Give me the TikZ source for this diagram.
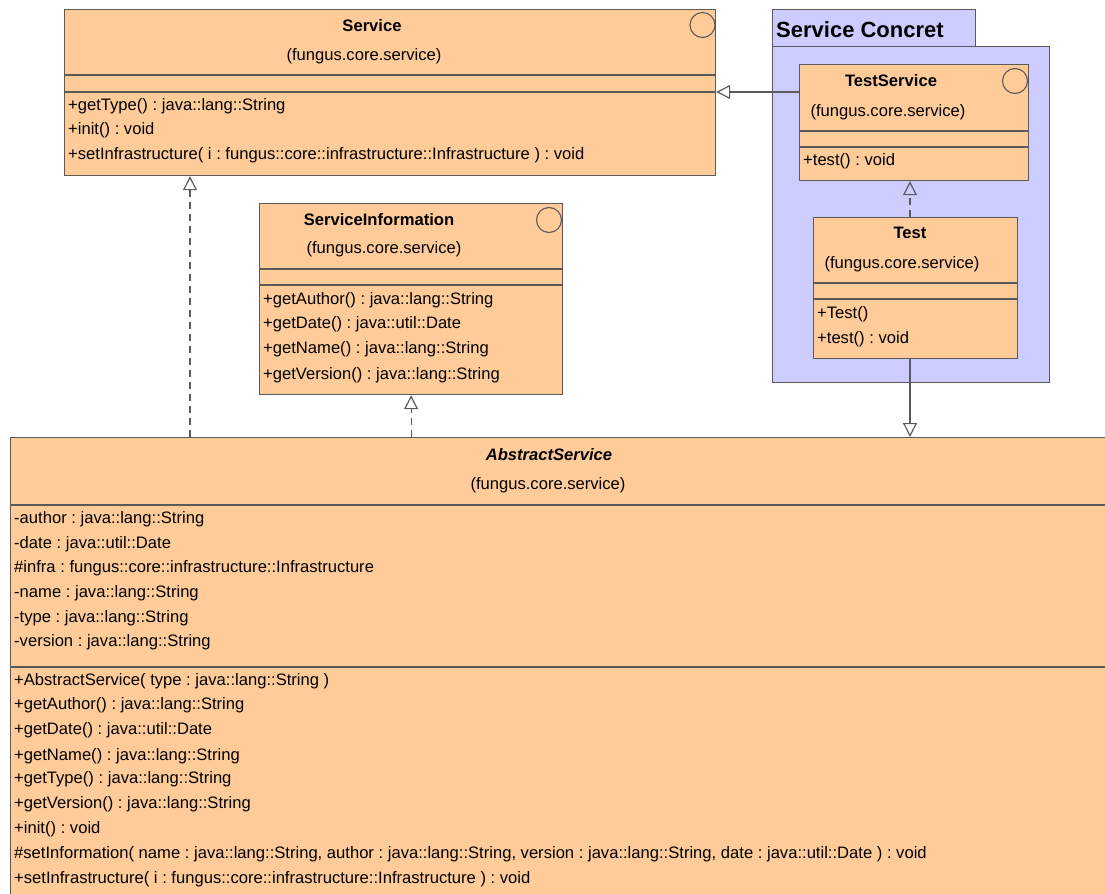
\documentclass[tikz,border=0pt]{standalone}
\usepackage{fontspec}
\setmainfont{Liberation Sans}
\usetikzlibrary{arrows.meta}
\definecolor{peach}{HTML}{FFCC99}
\definecolor{lav}{HTML}{CCCCFF}
\definecolor{edge}{HTML}{5A5A5A}
\frenchspacing
\begin{document}
\begin{tikzpicture}[x=1bp,y=-1bp,
  classbox/.style={draw=edge, line width=1.2pt, fill=peach, anchor=north west, inner sep=0pt},
  pkgbox/.style={draw=edge, line width=1.2pt, fill=lav, anchor=north west, inner sep=0pt},
  sepline/.style={draw=edge, line width=1.1pt},
  icon/.style={draw=edge, line width=1.1pt, circle, minimum size=25bp, inner sep=0pt},
  rowtxt/.style={anchor=base west, inner sep=0pt, font=\fontsize{16.6bp}{19bp}\selectfont},
  ttltxt/.style={anchor=base, inner sep=0pt, font=\fontsize{16.6bp}{19bp}\selectfont\bfseries},
  pkgtxt/.style={anchor=base, inner sep=0pt, font=\fontsize{16.6bp}{19bp}\selectfont},
  gen/.style={draw=edge, line width=1.2pt, -{Triangle[open, length=14bp, width=14bp, line width=1.2pt]}},
  realz/.style={gen, dash pattern=on 7bp off 5bp}]
\useasboundingbox (0,0) rectangle (1105,894);
\clip (0,0) rectangle (1105,894);

% ---------- Service ----------
\node[classbox, minimum width=651bp, minimum height=166bp] (svc) at (64,9) {};
\draw[sepline] (svc.west |- 0,75) -- (svc.east |- 0,75);
\draw[sepline] (svc.west |- 0,92) -- (svc.east |- 0,92);
\node[icon] (svcI) at (702.5,25) {};
\node[ttltxt] (svcT) at (372,31) {Service};
\node[pkgtxt] (svcP) at (364,60) {(fungus.core.service)};
\node[rowtxt] (svcM1) at (68,110) {+getType() : java::lang::String};
\node[rowtxt] (svcM2) at (68,134) {+init() : void};
\node[rowtxt] (svcM3) at (68,159) {+setInfrastructure( i : fungus::core::infrastructure::Infrastructure ) : void};

% ---------- Package Service Concret ----------
\node[pkgbox, minimum width=203bp, minimum height=37bp] (tab) at (772,9) {};
\node[pkgbox, minimum width=277bp, minimum height=336bp] (pkg) at (772,46) {};
\node[anchor=base west, inner sep=0pt, font=\fontsize{22bp}{26bp}\selectfont\bfseries] (pkgL) at (776,37) {Service Concret};

% ---------- TestService ----------
\node[classbox, minimum width=229bp, minimum height=116bp] (ts) at (799,64) {};
\draw[sepline] (ts.west |- 0,131) -- (ts.east |- 0,131);
\draw[sepline] (ts.west |- 0,147) -- (ts.east |- 0,147);
\node[icon] (tsI) at (1015,81) {};
\node[ttltxt] (tsT) at (891,86) {TestService};
\node[pkgtxt] (tsP) at (888,116) {(fungus.core.service)};
\node[rowtxt] (tsM1) at (803,165) {+test() : void};

% ---------- Test ----------
\node[classbox, minimum width=204bp, minimum height=141bp] (tst) at (813,217) {};
\draw[sepline] (tst.west |- 0,283) -- (tst.east |- 0,283);
\draw[sepline] (tst.west |- 0,299) -- (tst.east |- 0,299);
\node[ttltxt] (tstT) at (910,238) {Test};
\node[pkgtxt] (tstP) at (902,268) {(fungus.core.service)};
\node[rowtxt] (tstM1) at (817,318) {+Test()};
\node[rowtxt] (tstM2) at (817,343) {+test() : void};

% ---------- ServiceInformation ----------
\node[classbox, minimum width=303bp, minimum height=191bp] (si) at (259,203) {};
\draw[sepline] (si.west |- 0,269) -- (si.east |- 0,269);
\draw[sepline] (si.west |- 0,285) -- (si.east |- 0,285);
\node[icon] (siI) at (549,220) {};
\node[ttltxt] (siT) at (379,225) {ServiceInformation};
\node[pkgtxt] (siP) at (384,253) {(fungus.core.service)};
\node[rowtxt] (siM1) at (263,304) {+getAuthor() : java::lang::String};
\node[rowtxt] (siM2) at (263,328) {+getDate() : java::util::Date};
\node[rowtxt] (siM3) at (263,353) {+getName() : java::lang::String};
\node[rowtxt] (siM4) at (263,379) {+getVersion() : java::lang::String};

% ---------- AbstractService ----------
\node[classbox, minimum width=1110bp, minimum height=480bp] (abs) at (10,437) {};
\draw[sepline] (abs.west |- 0,505) -- (abs.east |- 0,505);
\draw[sepline] (abs.west |- 0,667) -- (abs.east |- 0,667);
\node[ttltxt, font=\fontsize{16.6bp}{19bp}\selectfont\bfseries\itshape] (absT) at (549,460) {AbstractService};
\node[pkgtxt] (absP) at (548,489) {(fungus.core.service)};
\node[rowtxt] (absA1) at (14,523) {-author : java::lang::String};
\node[rowtxt] (absA2) at (14,548) {-date : java::util::Date};
\node[rowtxt] (absA3) at (14,572) {\#infra : fungus::core::infrastructure::Infrastructure};
\node[rowtxt] (absA4) at (14,597) {-name : java::lang::String};
\node[rowtxt] (absA5) at (14,622) {-type : java::lang::String};
\node[rowtxt] (absA6) at (14,646) {-version : java::lang::String};
\node[rowtxt] (absM1) at (14,685) {+AbstractService( type : java::lang::String )};
\node[rowtxt] (absM2) at (14,709) {+getAuthor() : java::lang::String};
\node[rowtxt] (absM3) at (14,734) {+getDate() : java::util::Date};
\node[rowtxt] (absM4) at (14,760) {+getName() : java::lang::String};
\node[rowtxt] (absM5) at (14,783) {+getType() : java::lang::String};
\node[rowtxt] (absM6) at (14,808) {+getVersion() : java::lang::String};
\node[rowtxt] (absM7) at (14,833) {+init() : void};
\node[rowtxt] (absM8) at (14,858) {\#setInformation( name : java::lang::String, author : java::lang::String, version : java::lang::String, date : java::util::Date ) : void};
\node[rowtxt] (absM9) at (14,883) {+setInfrastructure( i : fungus::core::infrastructure::Infrastructure ) : void};

% ---------- Connectors ----------
\draw[gen] (ts.west |- 0,92) -- (svc.east |- 0,92);
\draw[realz] (abs.north -| 190,0) -- (svc.south -| 190,0);
\draw[realz] (abs.north -| si.south) -- (si.south);
\draw[realz] (tst.north -| 910,0) -- (ts.south -| 910,0);
\draw[gen] (tst.south -| 910,0) -- (abs.north -| 910,0);
\end{tikzpicture}
\end{document}
